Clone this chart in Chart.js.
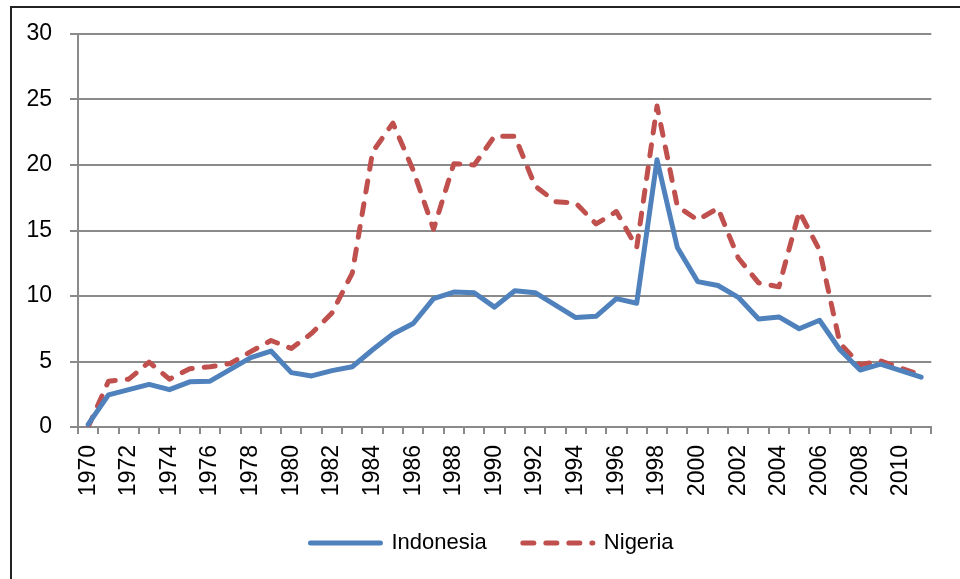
<!DOCTYPE html>
<html>
<head>
<meta charset="utf-8">
<script src="https://cdn.jsdelivr.net/npm/chart.js@4"></script>
<style>
  html, body { margin: 0; padding: 0; background: #fff; }
  #frame { position: absolute; left: 10px; top: 6px; width: 960px; height: 580px; border-left: 2px solid #222; border-top: 2px solid #222; }
  #wrap { position: absolute; left: 0; top: 0; width: 960px; height: 579px; }
</style>
</head>
<body>
<div id="frame"></div>
<div id="wrap"><canvas id="c" width="960" height="579"></canvas></div>
<script>
const years = [1970,1971,1972,1973,1974,1975,1976,1977,1978,1979,1980,1981,1982,1983,1984,1985,1986,1987,1988,1989,1990,1991,1992,1993,1994,1995,1996,1997,1998,1999,2000,2001,2002,2003,2004,2005,2006,2007,2008,2009,2010,2011];
const indonesia = [0.2,2.45,2.85,3.25,2.85,3.45,3.5,4.4,5.3,5.8,4.15,3.9,4.3,4.6,5.9,7.1,7.9,9.8,10.3,10.25,9.15,10.4,10.25,9.3,8.35,8.45,9.8,9.45,20.4,13.7,11.1,10.8,9.9,8.25,8.4,7.5,8.15,5.9,4.35,4.8,4.3,3.8];
const nigeria = [0,3.5,3.65,4.95,3.65,4.45,4.6,4.85,5.75,6.6,6.0,7.15,8.7,11.75,21.0,23.2,19.6,15.1,20.1,20.0,22.2,22.2,18.4,17.2,17.1,15.5,16.45,13.7,24.5,16.85,15.8,16.7,12.9,11.0,10.7,16.45,13.5,6.4,4.75,5.05,4.5,3.95];
const seriesNames = ['Indonesia', 'Nigeria'];
const yTicks = { min: 0, max: 30, step: 5 };

const gridColor = '#8a8a8a';

const legendShift = {
  id: 'legendShift',
  afterLayout(chart) {
    const lg = chart.legend;
    if (lg) { lg.left += 23; lg.right += 23; }
  }
};

new Chart(document.getElementById('c'), {
  type: 'line',
  plugins: [legendShift],
  data: {
    labels: years.map(String),
    datasets: [
      {
        label: seriesNames[0],
        data: indonesia,
        borderColor: '#4F81BD',
        backgroundColor: '#4F81BD',
        borderWidth: 5,
        pointRadius: 0,
        tension: 0,
        borderJoinStyle: 'round',
        borderCapStyle: 'round'
      },
      {
        label: seriesNames[1],
        data: nigeria,
        borderColor: '#C0504D',
        backgroundColor: '#C0504D',
        borderWidth: 5,
        borderDash: [11, 12],
        pointRadius: 0,
        tension: 0,
        borderJoinStyle: 'round',
        borderCapStyle: 'round'
      }
    ]
  },
  options: {
    responsive: false,
    animation: false,
    devicePixelRatio: 1,
    layout: { padding: { left: 0, right: 22, top: 34, bottom: 15 } },
    plugins: {
      legend: {
        position: 'bottom',
        labels: {
          usePointStyle: true,
          pointStyle: 'line',
          pointStyleWidth: 70,
          padding: 36,
          color: '#000',
          font: { family: 'Liberation Sans', size: 22 },
          generateLabels(chart) {
            const items = Chart.defaults.plugins.legend.labels.generateLabels(chart);
            items.forEach((it) => {
              const ds = chart.data.datasets[it.datasetIndex];
              it.lineDash = ds.borderDash || [];
              it.lineCap = 'round';
              it.lineWidth = ds.borderWidth;
              it.strokeStyle = ds.borderColor;
              it.fillStyle = ds.borderColor;
              it.pointStyle = 'line';
            });
            return items;
          }
        }
      },
      tooltip: { enabled: false }
    },
    scales: {
      x: {
        offset: true,
        afterFit: (s) => { s.height = 69; },
        grid: {
          offset: true,
          drawOnChartArea: false,
          drawTicks: true,
          tickLength: 7,
          color: gridColor,
          lineWidth: 2
        },
        border: { color: gridColor, width: 2 },
        ticks: {
          autoSkip: false,
          maxRotation: 90,
          minRotation: 90,
          padding: 11,
          color: '#000',
          font: { family: 'Liberation Sans', size: 23 },
          callback: function(v, i) { return i % 2 === 0 ? this.getLabelForValue(v) : ''; }
        }
      },
      y: {
        min: yTicks.min,
        max: yTicks.max,
        afterFit: (s) => { s.width = 78; },
        grid: {
          color: gridColor,
          lineWidth: 2,
          tickLength: 8
        },
        border: { color: gridColor, width: 2 },
        ticks: {
          stepSize: yTicks.step,
          padding: 18,
          color: '#000',
          font: { family: 'Liberation Sans', size: 23 }
        }
      }
    }
  }
});
</script>
</body>
</html>
